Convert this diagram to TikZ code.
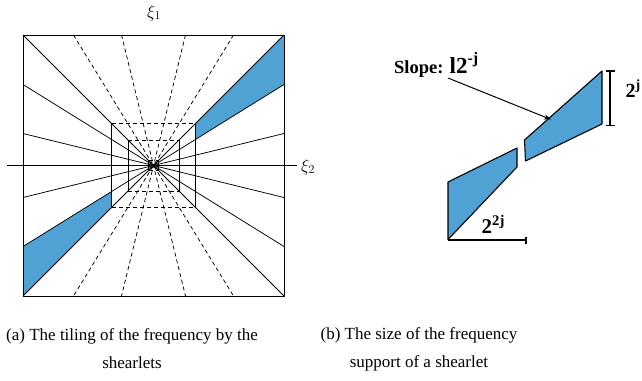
\documentclass[tikz,border=0pt]{standalone}
\usepackage{fontspec}
\setmainfont{Liberation Serif}
\usetikzlibrary{arrows.meta}
\definecolor{sblue}{RGB}{80,162,212}
\tikzset{
  thin line/.style={line width=0.75pt},
  dline/.style={line width=0.75pt, dash pattern=on 4pt off 3pt},
  frame line/.style={line width=1pt},
  trap/.style={fill=sblue, draw=black, line width=1.1pt, line join=round},
  bracket/.style={line width=1.4pt},
  lbl/.style={inner sep=0pt, font=\bfseries},
  captext/.style={align=center, font=\fontsize{17}{28}\selectfont, inner sep=0pt}
}
\begin{document}
\begin{tikzpicture}[x=1pt,y=-1pt]
\useasboundingbox (0,0) rectangle (642,380);
% ---------- left panel ----------
\def\cx{153.5}\def\cy{165.5}\def\H{130.5}
\coordinate (C) at (\cx,\cy);
% blue wedges
\fill[sblue] (195.5,{\cy-42}) -- (284,35) -- (284,{\cy-81}) -- (195.5,{\cy-81*42/130.5}) -- cycle;
\fill[sblue] (111.5,{\cy+42}) -- (23,296) -- (23,{\cy+81}) -- (111.5,{\cy+81*42/130.5}) -- cycle;
% solid lines through centre
\foreach \o in {-130.5,-81,-32,32,81,130.5}{
  \draw[thin line] ({\cx-\H},{\cy+\o}) -- ({\cx+\H},{\cy-\o});
}
% dashed lines through centre
\foreach \o in {-80,-32,32,80}{
  \draw[dline] ({\cx+\o},{\cy-\H}) -- ({\cx-\o},{\cy+\H});
}
% axis
\draw[thin line] (7,\cy) coordinate (axL) -- (297,\cy) coordinate (axR);
% outer square
\draw[frame line] (23,35) rectangle (284,296);
% nested boxes: solid sides, dashed top/bottom
\foreach \h in {42,25.5,5}{
  \draw[thin line] ({\cx-\h},{\cy-\h}) -- ({\cx-\h},{\cy+\h});
  \draw[thin line] ({\cx+\h},{\cy-\h}) -- ({\cx+\h},{\cy+\h});
  \draw[dline] ({\cx-\h},{\cy-\h}) -- ({\cx+\h},{\cy-\h});
  \draw[dline] ({\cx-\h},{\cy+\h}) -- ({\cx+\h},{\cy+\h});
}
\node[inner sep=0pt, font=\fontsize{17}{17}\selectfont] (xi1) at (154,13) {$\xi_1$};
\node[inner sep=0pt, font=\fontsize{17}{17}\selectfont, anchor=west] (xi2) at (301,167) {$\xi_2$};
% ---------- right panel ----------
\draw[trap] (524.5,140) -- (602,71) -- (602,124) -- (525.5,161) -- cycle;
\draw[trap] (448,182) -- (517,148) -- (517,167) -- (448,239.5) -- cycle;
% vertical bracket
\draw[bracket] (610,71) -- (610,125.5);
\draw[bracket] (606,71) -- (614.5,71);
\draw[bracket] (606,125.5) -- (614.5,125.5);
\node[lbl, anchor=base west, font=\fontsize{20}{20}\selectfont\bfseries] (h) at (625.5,97) {2\textsuperscript{j}};
% horizontal bracket
\draw[bracket] (448,240) -- (526,240);
\draw[bracket] (526,236.5) -- (526,244);
\node[lbl, anchor=base west, font=\fontsize{21}{21}\selectfont\bfseries] (w) at (481.5,233) {2\textsuperscript{2j}};
% slope label and arrow
\node[lbl, anchor=base west] (slope) at (394,73)
  {\fontsize{18.5}{18}\selectfont Slope: \fontsize{23}{22}\selectfont l2\textsuperscript{-j}};
\coordinate (sa) at (448,78);
\coordinate (sb) at (551,119.5);
\draw[line width=1pt, -{Stealth[length=7pt,width=5pt]}] (sa) -- (sb);
% ---------- captions ----------
\node[captext] (capa) at (132,349) {(a) The tiling of the frequency by the\\shearlets};
\node[captext] (capb) at (419,349) {(b) The size of the frequency\\support of a shearlet};
\end{tikzpicture}
\end{document}
